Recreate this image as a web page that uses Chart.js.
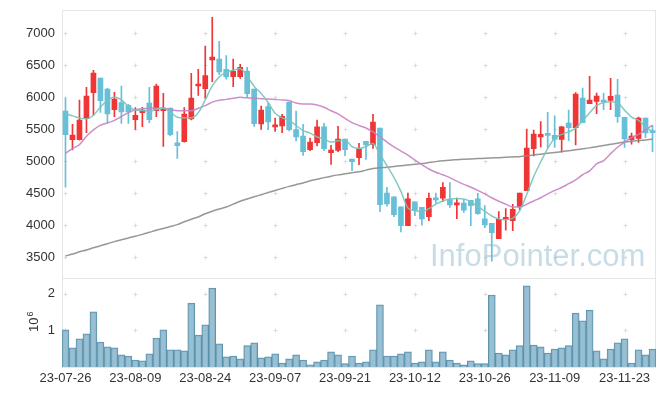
<!DOCTYPE html>
<html>
<head>
<meta charset="utf-8">
<script src="https://cdn.jsdelivr.net/npm/chart.js@4.4.1/dist/chart.umd.min.js"></script>
<style>
  html, body { margin: 0; padding: 0; background: #fff; }
  #wrap { width: 665px; height: 396px; }
</style>
</head>
<body>
<div id="wrap"><canvas id="stockChart" width="665" height="396"></canvas></div>
<script>
const labels = [
  "23-07-26","23-07-27","23-07-28","23-07-31","23-08-01","23-08-02","23-08-03","23-08-04","23-08-07","23-08-08",
  "23-08-09","23-08-10","23-08-11","23-08-14","23-08-16","23-08-17","23-08-18","23-08-21","23-08-22","23-08-23",
  "23-08-24","23-08-25","23-08-28","23-08-29","23-08-30","23-08-31","23-09-01","23-09-04","23-09-05","23-09-06",
  "23-09-07","23-09-08","23-09-11","23-09-12","23-09-13","23-09-14","23-09-15","23-09-18","23-09-19","23-09-20",
  "23-09-21","23-09-22","23-09-25","23-09-26","23-09-27","23-10-04","23-10-05","23-10-06","23-10-10","23-10-11",
  "23-10-12","23-10-13","23-10-16","23-10-17","23-10-18","23-10-19","23-10-20","23-10-23","23-10-24","23-10-25",
  "23-10-26","23-10-27","23-10-30","23-10-31","23-11-01","23-11-02","23-11-03","23-11-06","23-11-07","23-11-08",
  "23-11-09","23-11-10","23-11-13","23-11-14","23-11-15","23-11-16","23-11-17","23-11-20","23-11-21","23-11-22",
  "23-11-23","23-11-24","23-11-27","23-11-28","23-11-29"
];

const openP = [
  5787,5339,5339,5667,6073,6302,6130,5807,5917,5875,
  5651,5761,5912,5792,5792,5833,5287,5307,5662,6177,
  6136,6583,6599,6438,6323,6323,6411,6130,5583,5854,
  5537,5552,5927,5495,5396,5182,5292,5537,5136,5172,
  5349,5036,5057,5313,5260,5521,4505,4443,4287,3995,
  4365,4281,4136,4412,4422,4401,4318,4349,4391,4412,
  4099,4031,3792,4094,4073,4292,4542,5198,5380,5427,
  5406,5344,5599,5526,5990,5901,5938,5958,5953,6036,
  5688,5339,5359,5677,5479
];
const highP = [
  5984,5578,5958,6156,6422,6302,6141,6078,6177,5891,
  5839,5844,6156,6208,6063,5833,5464,5839,6375,6437,
  6802,7250,6875,6651,6599,6516,6469,6130,5865,5906,
  5677,5734,5927,5787,5578,5365,5646,5594,5250,5547,
  5349,5036,5281,5313,5734,5521,4594,4443,4287,4505,
  4365,4281,4505,4505,4667,4667,4427,4401,4391,4500,
  4307,4031,4214,4260,4328,4505,5505,5490,5620,5766,
  5709,5547,5802,6073,6146,6328,6068,6068,6297,6281,
  5688,5443,5693,5677,5563
];
const lowP = [
  4594,5177,5330,5448,5719,5766,5594,5698,5594,5594,
  5500,5542,5604,5698,5234,5400,5047,5300,5646,6031,
  5984,6245,6354,6282,6167,6297,6000,5547,5500,5495,
  5469,5448,5474,5318,5094,5167,5240,5167,4953,5151,
  5089,4854,4948,5031,5203,4214,4297,4136,3896,3995,
  4151,4000,4073,4344,4370,4281,4104,4203,3995,4170,
  3964,3440,3792,3922,3917,4240,4542,5083,5224,5214,
  5219,5141,5323,5255,5604,5901,5745,5808,5808,5609,
  5219,5266,5297,5370,5151
];
const closeP = [
  5417,5411,5646,6021,6380,5948,5740,5974,5771,5771,
  5719,5802,5651,6177,5833,5417,5246,5740,5990,6208,
  6339,6630,6396,6318,6406,6469,6057,5589,5802,5615,
  5568,5703,5495,5380,5151,5302,5537,5198,5177,5349,
  5182,4995,5193,5255,5615,4323,4333,4167,3995,4412,
  4235,4099,4422,4396,4594,4318,4349,4235,4307,4182,
  4011,3886,4094,4115,4250,4505,5208,5427,5422,5406,
  5344,5537,5526,6052,5604,5958,6021,5927,6016,5698,
  5349,5396,5677,5443,5448
];

// volume in units of 10^6
const volumeM = [
  1.01,0.52,0.77,0.90,1.50,0.68,0.55,0.52,0.33,0.30,
  0.19,0.17,0.36,0.79,1.01,0.47,0.47,0.44,1.74,0.87,
  1.15,2.15,0.63,0.28,0.30,0.22,0.58,0.66,0.25,0.28,
  0.36,0.11,0.22,0.33,0.19,0.06,0.14,0.19,0.41,0.33,
  0.09,0.30,0.11,0.14,0.47,1.69,0.30,0.30,0.36,0.41,
  0.11,0.14,0.47,0.14,0.41,0.19,0.11,0.06,0.17,0.09,
  0.09,1.96,0.38,0.33,0.47,0.58,2.21,0.60,0.55,0.38,
  0.49,0.52,0.58,1.47,1.26,1.55,0.44,0.22,0.49,0.66,
  0.77,0.11,0.47,0.33,0.49
];

const ma5 = [
  5740,5710,5675,5665,5720,5850,5950,6005,5960,5860,
  5800,5795,5785,5810,5830,5770,5690,5680,5680,5760,
  5960,6180,6320,6390,6425,6445,6330,6170,6060,5920,
  5750,5680,5640,5560,5480,5440,5380,5350,5300,5320,
  5330,5230,5200,5230,5280,5110,4930,4750,4530,4270,
  4230,4215,4260,4330,4380,4410,4420,4410,4370,4290,
  4220,4145,4100,4085,4110,4230,4480,4760,4990,5200,
  5360,5420,5460,5520,5630,5760,5870,5920,5932,5916,
  5800,5690,5640,5540,5460
];
const ma20 = [
  5125,5200,5260,5390,5490,5565,5600,5640,5700,5760,
  5805,5820,5828,5830,5830,5810,5790,5790,5790,5830,
  5870,5925,5955,5968,5985,6000,5992,5984,5978,5972,
  5966,5960,5950,5910,5895,5895,5880,5845,5790,5740,
  5670,5605,5560,5520,5460,5385,5300,5225,5160,5095,
  5020,4950,4880,4830,4790,4745,4690,4640,4595,4545,
  4490,4430,4375,4330,4285,4285,4330,4380,4430,4490,
  4545,4590,4650,4710,4790,4850,4960,5010,5120,5220,
  5300,5370,5420,5490,5567
];
const ma120 = [
  3520,3550,3585,3615,3648,3680,3712,3745,3773,3800,
  3830,3858,3890,3922,3950,3980,4010,4055,4095,4130,
  4180,4220,4255,4285,4330,4375,4410,4445,4478,4512,
  4545,4577,4608,4635,4662,4695,4720,4745,4768,4788,
  4805,4822,4836,4862,4888,4898,4906,4918,4932,4944,
  4955,4965,4980,4995,5008,5018,5025,5032,5038,5043,
  5047,5052,5057,5063,5068,5073,5085,5098,5112,5125,
  5138,5152,5166,5180,5195,5210,5228,5246,5265,5284,
  5300,5313,5324,5334,5344
];

const priceTicks = [3500, 4000, 4500, 5000, 5500, 6000, 6500, 7000];
const volTicks = [1, 2];

const UP = "#ef3535";
const DOWN = "#67bfd8";
const candleColors = closeP.map((c, i) => (c >= openP[i] ? UP : DOWN));
const FONT = "'Liberation Sans', Arial, sans-serif";

// small crosses at grid intersections, panel frames, watermark
const decorPlugin = {
  id: "decor",
  beforeDatasetsDraw(chart) {
    const ctx = chart.ctx;
    const xs = chart.scales.x, y = chart.scales.y, yv = chart.scales.yv;
    const left = chart.chartArea.left, right = chart.chartArea.right;
    ctx.save();

    ctx.strokeStyle = "#e6e6e6";
    ctx.lineWidth = 1;
    ctx.strokeRect(left + 0.5, Math.round(y.top) + 0.5, right - left - 1, Math.round(y.bottom - y.top));
    ctx.strokeRect(left + 0.5, Math.round(yv.top) + 0.5, right - left - 1, Math.round(yv.bottom - yv.top));

    ctx.strokeStyle = "#dcdcdc";
    const cross = (px, py) => {
      px = Math.round(px) + 0.5; py = Math.round(py) + 0.5;
      ctx.beginPath();
      ctx.moveTo(px - 2, py); ctx.lineTo(px + 2, py);
      ctx.moveTo(px, py - 2); ctx.lineTo(px, py + 2);
      ctx.stroke();
    };
    for (let i = 0; i < labels.length; i += 10) {
      const px = xs.getPixelForValue(i);
      priceTicks.forEach(v => cross(px, y.getPixelForValue(v)));
      volTicks.forEach(v => cross(px, yv.getPixelForValue(v)));
    }

    ctx.fillStyle = "rgba(145, 185, 207, 0.5)";
    ctx.font = "31px " + FONT;
    ctx.textBaseline = "alphabetic";
    ctx.fillText("InfoPointer.com", 430, 266);
    ctx.restore();
  },
  afterDraw(chart) {
    const ctx = chart.ctx;
    ctx.save();
    ctx.fillStyle = "#333";
    ctx.translate(37.5, 332);
    ctx.rotate(-Math.PI / 2);
    ctx.font = "13px " + FONT;
    ctx.fillText("10", 0, 0);
    const w = ctx.measureText("10").width;
    ctx.font = "9px " + FONT;
    ctx.fillText("6", w + 1, -5);
    ctx.restore();
  }
};

const fitY = s => { s.width = 62; s.paddingTop = 0; s.paddingBottom = 0; };

const ctx = document.getElementById("stockChart").getContext("2d");
new Chart(ctx, {
  type: "bar",
  data: {
    labels: labels,
    datasets: [
      { type: "line", label: "MA5", data: ma5, yAxisID: "y", borderColor: "rgba(120,196,186,0.9)", borderWidth: 1.5, pointRadius: 0, cubicInterpolationMode: "monotone", order: 0 },
      { type: "line", label: "MA20", data: ma20, yAxisID: "y", borderColor: "rgba(200,130,196,0.9)", borderWidth: 1.5, pointRadius: 0, cubicInterpolationMode: "monotone", order: 0 },
      { type: "line", label: "MA120", data: ma120, yAxisID: "y", borderColor: "rgba(140,140,140,0.9)", borderWidth: 1.5, pointRadius: 0, cubicInterpolationMode: "monotone", order: 0 },
      { label: "body", data: openP.map((o, i) => [o, closeP[i]]), yAxisID: "y", backgroundColor: candleColors, barThickness: 5, grouped: false, minBarLength: 2, order: 1 },
      { label: "wick", data: lowP.map((l, i) => [l, highP[i]]), yAxisID: "y", backgroundColor: candleColors, barThickness: 1, grouped: false, order: 2 },
      { label: "volume", data: volumeM, yAxisID: "yv", backgroundColor: "rgba(135,180,202,0.85)", borderColor: "rgba(75,135,165,0.9)", borderWidth: 1, barPercentage: 1, categoryPercentage: 1, grouped: false, order: 3 }
    ]
  },
  options: {
    responsive: false,
    animation: false,
    layout: { padding: { top: 10, right: 9, left: 0, bottom: 0 } },
    plugins: { legend: { display: false }, tooltip: { enabled: false } },
    scales: {
      x: {
        grid: { display: false, drawTicks: false },
        border: { display: false },
        ticks: {
          autoSkip: false, maxRotation: 0, minRotation: 0, padding: 4,
          color: "#333", font: { family: FONT, size: 13 },
          callback: (v, i) => (i % 10 === 0 ? labels[i] : null)
        },
        afterFit: s => { s.height = 29; s.paddingLeft = 0; s.paddingRight = 0; }
      },
      yv: {
        position: "left", stack: "main", stackWeight: 1,
        min: 0, max: 2.43,
        grid: { display: false, drawTicks: false },
        border: { display: false },
        afterBuildTicks: s => { s.ticks = volTicks.map(v => ({ value: v })); },
        ticks: { padding: 7, color: "#333", font: { family: FONT, size: 13 }, callback: v => String(v) },
        afterFit: fitY
      },
      y: {
        position: "left", stack: "main", stackWeight: 3,
        min: 3180, max: 7365,
        grid: { display: false, drawTicks: false },
        border: { display: false },
        afterBuildTicks: s => { s.ticks = priceTicks.map(v => ({ value: v })); },
        ticks: { padding: 7, color: "#333", font: { family: FONT, size: 13 }, callback: v => String(v) },
        afterFit: fitY
      }
    }
  },
  plugins: [decorPlugin]
});
</script>
</body>
</html>
